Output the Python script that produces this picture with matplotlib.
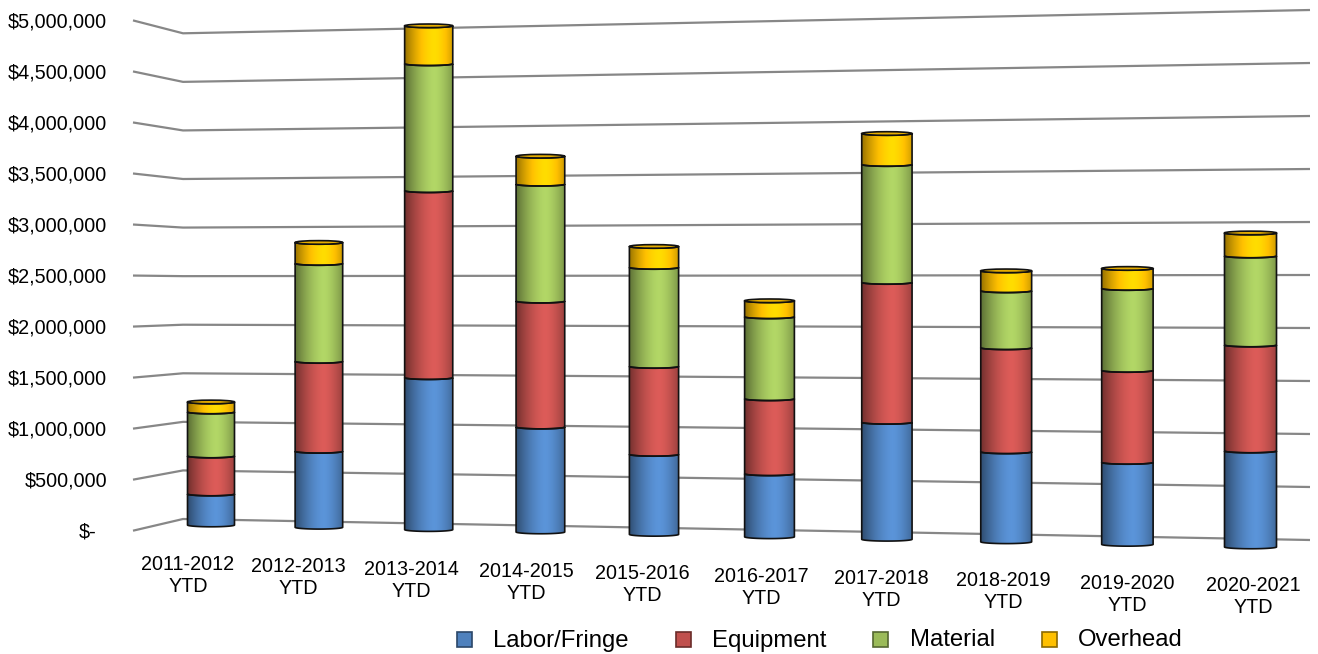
import numpy as np
import matplotlib
matplotlib.use("Agg")
import matplotlib.pyplot as plt
from matplotlib.path import Path
from matplotlib.patches import PathPatch, Rectangle, Ellipse
from matplotlib.colors import to_rgb

# ---------------------------------------------------------------- data
categories = ["2011-2012\nYTD", "2012-2013\nYTD", "2013-2014\nYTD", "2014-2015\nYTD",
              "2015-2016\nYTD", "2016-2017\nYTD", "2017-2018\nYTD", "2018-2019\nYTD",
              "2019-2020\nYTD", "2020-2021\nYTD"]
labor = [309000, 751000, 1489000, 1019000, 770000, 601000, 1106000, 843000, 761000, 883000]
equipment = [379000, 889000, 1832000, 1223000, 847000, 716000, 1323000, 975000, 854000, 975000]
material = [439000, 968000, 1244000, 1136000, 953000, 782000, 1115000, 534000, 761000, 819000]
overhead = [100000, 208000, 372000, 272000, 202000, 153000, 293000, 187000, 186000, 212000]

series_names = ["Labor/Fringe", "Equipment", "Material", "Overhead"]
series_colors = ["#4F81BD", "#C0504D", "#9BBB59", "#FFC000"]
tick_values = [0, 500000, 1000000, 1500000, 2000000, 2500000,
               3000000, 3500000, 4000000, 4500000, 5000000]
tick_labels = ["$-", "$500,000", "$1,000,000", "$1,500,000", "$2,000,000", "$2,500,000",
               "$3,000,000", "$3,500,000", "$4,000,000", "$4,500,000", "$5,000,000"]

FONT = ["Liberation Sans", "DejaVu Sans"]

# ---------------------------------------------------------------- canvas
W, H, DPI = 1318, 654, 100
fig = plt.figure(figsize=(W / DPI, H / DPI), dpi=DPI)
ax = fig.add_axes([0, 0, 1, 1])
ax.set_axis_off()

# x runs in screen pixels, y in dollars (as measured on the left wall edge)
Y0_LEFT = 530.7          # screen row of $0 at the left wall edge
PX_LEFT = 102.06e-6      # screen pixels per dollar at the left wall edge
ax.set_xlim(0, W)
ax.set_ylim(-(H - Y0_LEFT) / PX_LEFT, Y0_LEFT / PX_LEFT)


def row(py):
    """Screen row -> data y."""
    return (Y0_LEFT - py) / PX_LEFT


# ---------------------------------------------------------------- perspective walls
WALL_X = [133, 183, 1310]            # left edge, back corner, right edge
WALL_FLOOR = [530.7, 519.0, 540.0]   # screen row of the $0 line
WALL_SCALE = [102.06, 97.14, 106.0]  # pixels per $1M


def wall_y(x, v):
    floor = np.interp(x, WALL_X, WALL_FLOOR)
    scale = np.interp(x, WALL_X, WALL_SCALE)
    return row(floor - v * scale / 1e6)


for v in tick_values:
    ax.plot(WALL_X, [wall_y(x, v) for x in WALL_X], color="#878787", lw=1.6,
            solid_capstyle="butt", zorder=1)

for v, lab in zip(tick_values, tick_labels):
    xr = 96 if v == 0 else 107
    ax.text(xr, row(Y0_LEFT - v * PX_LEFT + 7.2), lab, ha="right", va="baseline",
            fontsize=14.2, family=FONT, color="#000000")

# ---------------------------------------------------------------- cylinders
n = len(categories)
idx = np.arange(n)
bar_x = 211 + 106 * idx + 0.95 * idx * (idx + 1)
bar_w = 47 + 5 * idx / (n - 1)
bar_floor = 525 + (bar_x - 211) * 22 / 1041                      # screen row of the floor
bar_scale = 1.03 * np.interp(bar_x, WALL_X[1:], WALL_SCALE[1:])  # px per $1M
E = 1.8 / PX_LEFT                                                # ellipse half-height (data)


def shade(color, t):
    """Horizontal cylinder shading: dark left edge, highlight right of centre."""
    base = np.array(to_rgb(color))
    peak, lo_left, lo_right, tp = 1.15, 0.6, 0.8, 0.6
    u = np.where(t < tp, (tp - t) / tp, (t - tp) / (1 - tp))
    lo = np.where(t < tp, lo_left, lo_right)
    b = peak - (peak - lo) * u ** 1.6
    rgb = base[None, :] * b[:, None]
    return np.clip(rgb, 0, 1)


t_grid = np.linspace(0, 1, 120)
arc_t = np.linspace(np.pi, 2 * np.pi, 60)
stack = np.vstack([labor, equipment, material, overhead])
cum = np.vstack([np.zeros(n), np.cumsum(stack, axis=0)])

for i in range(n):
    xc, w = bar_x[i], bar_w[i]
    x0, x1 = xc - w / 2, xc + w / 2
    for j in range(len(series_names)):
        ylo = row(bar_floor[i] - cum[j, i] * bar_scale[i] / 1e6)
        yhi = row(bar_floor[i] - cum[j + 1, i] * bar_scale[i] / 1e6)
        arc_x = xc + (w / 2) * np.cos(arc_t)
        bot = ylo + E * np.sin(arc_t)
        top = yhi + E * np.sin(arc_t)
        verts = np.concatenate([
            np.column_stack([arc_x, bot]),
            np.column_stack([arc_x[::-1], top[::-1]]),
            [[arc_x[0], bot[0]]],
        ])
        codes = [Path.MOVETO] + [Path.LINETO] * (len(verts) - 2) + [Path.CLOSEPOLY]
        path = Path(verts, codes)
        clip = PathPatch(path, facecolor="none", edgecolor="none", zorder=3)
        ax.add_patch(clip)
        img = shade(series_colors[j], t_grid)[None, :, :]
        im = ax.imshow(img, extent=(x0, x1, ylo - E, yhi + E), aspect="auto",
                       interpolation="bilinear", zorder=3, origin="lower")
        im.set_clip_path(clip)
        ax.add_patch(PathPatch(path, facecolor="none", edgecolor="#111111",
                               lw=1.2, zorder=4))
        if j == len(series_names) - 1:
            cap = np.clip(np.array(to_rgb(series_colors[j])) * 0.9, 0, 1)
            ax.add_patch(Ellipse((xc, yhi), w, 2 * E, facecolor=cap,
                                 edgecolor="#111111", lw=1.2, zorder=5))

# ---------------------------------------------------------------- category labels
for i, cat in enumerate(categories):
    lx = bar_x[i] - 23 + 26 * i / (n - 1)
    base = 570.0 + 21 * i / (n - 1)
    for k, line in enumerate(cat.split("\n")):
        ax.text(lx, row(base + 22.0 * k), line, ha="center", va="baseline",
                fontsize=14.2, family=FONT, color="#000000")

# ---------------------------------------------------------------- legend
leg_box_x = [457, 676, 873, 1042]
leg_text_x = [493, 712, 910, 1078]
for name, col, bx, tx in zip(series_names, series_colors, leg_box_x, leg_text_x):
    edge = np.array(to_rgb(col)) * 0.55
    ax.add_patch(Rectangle((bx, row(647)), 15, row(632) - row(647), facecolor=col,
                           edgecolor=edge, lw=1.2, zorder=5))
    ax.text(tx, row(646.5), name, ha="left", va="baseline", fontsize=17.2,
            family=FONT, color="#000000")

fig.savefig("out.png", dpi=DPI)
